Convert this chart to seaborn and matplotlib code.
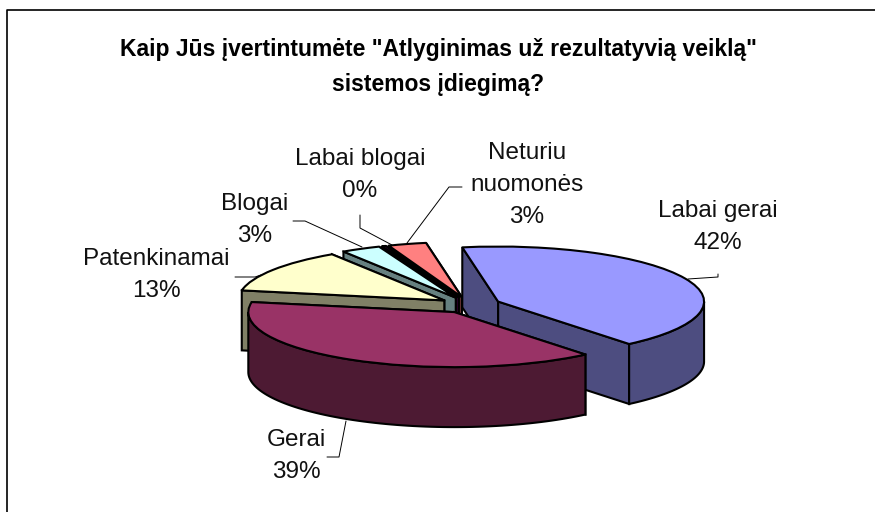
import numpy as np
import seaborn as sns
import matplotlib.pyplot as plt
from matplotlib.patches import Polygon

categories = ["Labai gerai", "Gerai", "Patenkinamai", "Blogai", "Labai blogai", "Neturiu\nnuomonės"]
values = [41.8, 38.9, 12.9, 3.1, 0.3, 3.0]
percent_labels = ["42%", "39%", "13%", "3%", "0%", "3%"]
colors = ["#9999FF", "#993366", "#FFFFCC", "#CCFFFF", "#660066", "#FF8080"]
side_colors = ["#4D4D80", "#4D1A33", "#808066", "#668080", "#330033", "#804040"]

# layout in image pixels
W, H = 875, 512
CX, CY = 470, 305      # pie centre
RX, RY = 206, 55         # ellipse of the top face
DEPTH = 60 / RY
label_pos = [(718, 227), (296, 456), (156, 275), (255, 220), (360, 175), (527, 185)]
leaders = [
    [(718, 274), (718, 277), (688, 279)],
    [(327, 457), (339, 457), (346, 421)],
    [(235, 277), (255, 277), (261, 275)],
    [(293, 221), (305, 221), (362, 247)],
    [(360, 215), (360, 228), (392, 245)],
    [(462, 187), (449, 187), (407, 243)],
]
draw_order = [5, 4, 3, 2, 0, 1]

sns.set_theme(style="white")
plt.rcParams["font.family"] = ["Liberation Sans", "DejaVu Sans"]

fig = plt.figure(figsize=(W / 100, H / 100), dpi=100)
ax = fig.add_axes([0, 0, 1, 1])

wedges, _ = ax.pie(values, colors=sns.color_palette(colors), explode=[0.15] * 6, startangle=100,
                   counterclock=False, radius=1, normalize=True,
                   wedgeprops=dict(edgecolor="black", linewidth=1.5, joinstyle="round"))

# unit circle squashed into an ellipse through the axis limits
ax.set_aspect("auto")
ax.set_xlim(-CX / RX, (W - CX) / RX)
ax.set_ylim((CY - H) / RY, CY / RY)


def px(x, y):
    return (x - CX) / RX, (CY - y) / RY


def rim(w, deg):
    a = np.radians(deg)
    return w.center[0] + w.r * np.cos(a), w.center[1] + w.r * np.sin(a)


for rank, i in enumerate(draw_order):
    w = wedges[i]
    z = 2 + rank * 2
    cx, cy = w.center
    # cut faces
    for deg in (w.theta1, w.theta2):
        rx, ry = rim(w, deg)
        ax.add_patch(Polygon([(cx, cy), (rx, ry), (rx, ry - DEPTH), (cx, cy - DEPTH)],
                             closed=True, facecolor=side_colors[i], edgecolor="black",
                             linewidth=1.5, zorder=z))
    # outer wall, only the part of the rim that faces the viewer
    t1, t2 = w.theta1 % 360, w.theta2 % 360
    if t2 <= t1:
        t2 += 360
    spans = [(max(t1, 180), min(t2, 360)), (max(t1, 540), min(t2, 720))]
    for a, b in spans:
        if b > a:
            arc = np.linspace(a, b, 80)
            top = np.array([rim(w, d) for d in arc])
            low = top[::-1] - [0, DEPTH]
            ax.add_patch(Polygon(np.vstack([top, low]), closed=True, facecolor=side_colors[i],
                                 edgecolor="black", linewidth=1.5, zorder=z + 0.5))
    w.set_zorder(z + 1)

# leader lines and labels
for i, cat in enumerate(categories):
    pts = np.array([px(*p) for p in leaders[i]])
    ax.plot(pts[:, 0], pts[:, 1], color="black", linewidth=0.7, zorder=1)
    x, y = px(*label_pos[i])
    ax.text(x, y, f"{cat}\n{percent_labels[i]}", ha="center", va="center", fontsize=17.5,
            linespacing=1.6, color="#111111", zorder=30)

fig.text(438 / W, 1 - 67 / H, 'Kaip Jūs įvertintumėte "Atlyginimas už rezultatyvią veiklą"\nsistemos įdiegimą?',
         ha="center", va="center", fontsize=16.5, fontweight="bold", linespacing=1.72, color="black")

# chart frame, only left and top edges fall inside the picture
fig.add_artist(plt.Line2D([6.5 / W, 6.5 / W, 1], [0, 1 - 10 / H, 1 - 10 / H], color="black", linewidth=1.2))

fig.savefig("out.png", dpi=100)
